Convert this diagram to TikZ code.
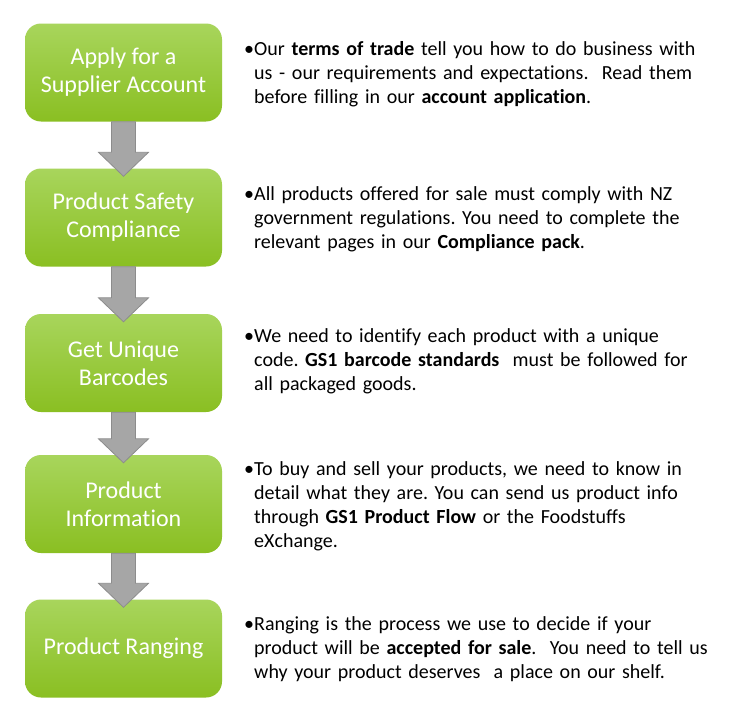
\documentclass[tikz,border=0pt]{standalone}
\usepackage{fontspec}
\setmainfont{Carlito}[Ligatures=NoCommon]
\usetikzlibrary{calc}
\frenchspacing
\definecolor{gtop}{RGB}{168,213,92}
\definecolor{gmid}{RGB}{152,203,52}
\definecolor{gbot}{RGB}{138,191,34}
\definecolor{arrowgray}{RGB}{166,166,166}
\definecolor{arrowedge}{RGB}{140,140,140}
\definecolor{txt}{RGB}{0,0,0}
\begin{document}
\begin{tikzpicture}[x=1pt,y=-1pt,
  stepbox/.style={rounded corners=16pt, minimum width=197pt, minimum height=98pt,
    top color=gtop, middle color=gmid, bottom color=gbot, draw=none,
    text=white, font=\fontsize{24}{28}\selectfont, align=center, inner sep=0pt},
  desc/.style={anchor=west, text width=500pt, align=left, text=txt,
    font=\fontsize{20}{24}\selectfont, inner sep=0pt},
  blockarrow/.style={fill=arrowgray, draw=arrowedge, line width=0.8pt, line join=miter}]
\useasboundingbox (0,0) rectangle (756,720);
\fill[white] (0,0) rectangle (756,720);

\node[stepbox] (b1) at (123.5,72.5) {Apply for a\\Supplier Account};
\node[stepbox] (b2) at (123.5,217.5) {Product Safety\\Compliance};
\node[stepbox] (b3) at (123.5,363) {Get Unique\\Barcodes};
\node[stepbox] (b4) at (123.5,504) {Product\\Information};
\node[stepbox] (b5) at (123.5,648.5) {Product Ranging};

\foreach \a/\b in {b1/b2,b2/b3,b3/b4,b4/b5}{
  \draw[blockarrow] ($(\a.south)+(-12,0)$) -- ($(\b.north)+(-12,-16)$)
    -- ($(\b.north)+(-25,-16)$) -- ($(\b.north)+(0,8)$)
    -- ($(\b.north)+(25,-16)$) -- ($(\b.north)+(12,-16)$)
    -- ($(\a.south)+(12,0)$) -- cycle;
}

\node[desc] (t1) at (254,74) {\llap{•}Our \textbf{terms of trade} tell you how to do business with\\
  us - our requirements and expectations.\ \ Read them\\
  before filling in our \textbf{account application}.};
\node[desc] (t2) at (254,219) {\llap{•}All products offered for sale must comply with NZ\\
  government regulations. You need to complete the\\
  relevant pages in our \textbf{Compliance pack}.};
\node[desc] (t3) at (254,361) {\llap{•}We need to identify each product with a unique\\
  code. \textbf{GS1 barcode standards}\ \ must be followed for\\
  all packaged goods.};
\node[desc] (t4) at (254,506.5) {\llap{•}To buy and sell your products, we need to know in\\
  detail what they are. You can send us product info\\
  through \textbf{GS1 Product Flow} or the Foodstuffs\\
  eXchange.};
\node[desc] (t5) at (254,649.5) {\llap{•}Ranging is the process we use to decide if your\\
  product will be \textbf{accepted for sale}.\ \ You need to tell us\\
  why your product deserves\ \ a place on our shelf.};
\end{tikzpicture}
\end{document}
